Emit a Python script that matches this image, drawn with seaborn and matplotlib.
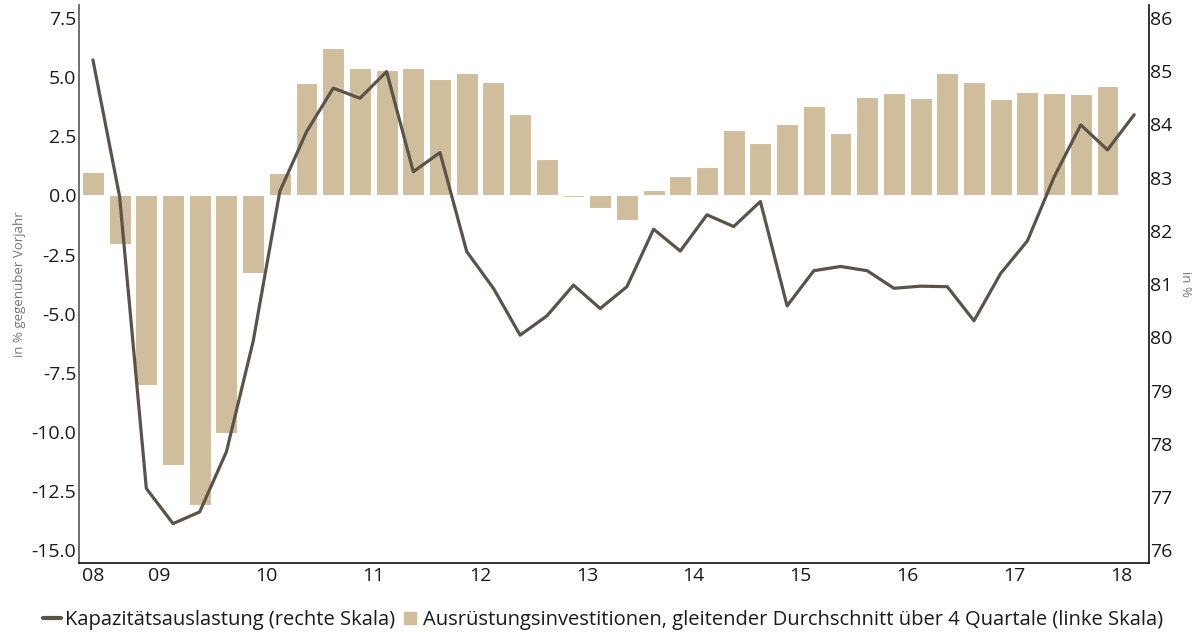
import pandas as pd
import matplotlib.pyplot as plt
from matplotlib.lines import Line2D
import seaborn as sns

# Quarters 2008Q2 .. 2018Q1
quarters = [f"{y}Q{q}" for y in range(2008, 2019) for q in range(1, 5)][1:41]

# Ausrüstungsinvestitionen, gleitender Durchschnitt über 4 Quartale (linke Skala), 2008Q2..2017Q4
investment = [1.0, -2.05, -8.0, -11.4, -13.1, -10.05, -3.26, 0.94,
              4.76, 6.25, 5.38, 5.32, 5.38, 4.91, 5.18, 4.81,
              3.46, 1.56, -0.05, -0.54, -1.02, 0.22, 0.84, 1.22,
              2.78, 2.2, 3.04, 3.78, 2.63, 4.18, 4.32, 4.12,
              5.19, 4.79, 4.08, 4.39, 4.33, 4.29, 4.62]

# Kapazitätsauslastung (rechte Skala), 2008Q2..2018Q1
capacity = [85.21, 82.64, 77.16, 76.50, 76.72, 77.85, 79.92, 82.74,
            83.86, 84.68, 84.49, 84.99, 83.11, 83.47, 81.61, 80.92,
            80.04, 80.40, 80.98, 80.54, 80.95, 82.03, 81.62, 82.30,
            82.08, 82.55, 80.59, 81.25, 81.33, 81.25, 80.92, 80.96,
            80.95, 80.31, 81.20, 81.81, 83.01, 83.99, 83.52, 84.18]

year_labels = ["08", "09", "10", "11", "12", "13", "14", "15", "16", "17", "18"]
left_ticks = [7.5, 5.0, 2.5, 0.0, -2.5, -5.0, -7.5, -10.0, -12.5, -15.0]
right_ticks = [76, 77, 78, 79, 80, 81, 82, 83, 84, 85, 86]

bar_color = "#cfbd9b"
line_color = "#5b5349"

bars = pd.DataFrame({"quarter": quarters[:len(investment)], "value": investment})
line = pd.DataFrame({"pos": range(len(capacity)), "value": capacity})

sns.set_style("white")
plt.rcParams["font.family"] = ["Open Sans", "DejaVu Sans"]

fig = plt.figure(figsize=(11.94, 6.34), dpi=100)
ax = fig.add_axes([0.0662, 0.112, 0.896, 0.88])

# Bars on the left scale
sns.barplot(data=bars, x="quarter", y="value", color=bar_color, saturation=1,
            width=0.82, edgecolor="white", linewidth=0.8, ax=ax)

# Line on the right scale
ax2 = ax.twinx()
sns.lineplot(data=line, x="pos", y="value", color=line_color, linewidth=2.3, ax=ax2)

ax.set_xlim(-0.52, 39.55)
ax.set_ylim(-15.54, 8.05)
ax2.set_ylim(75.76, 86.24)

# Year ticks sit on year boundaries, "08" on the first bar
ax.set_xticks([0] + [2.5 + 4 * i for i in range(10)])
ax.set_xticklabels(year_labels, fontsize=14, color="#1a1a1a")
ax.set_yticks(left_ticks)
ax.set_yticklabels([f"{t:.1f}" for t in left_ticks], fontsize=14, color="#1a1a1a")
ax2.set_yticks(right_ticks)
ax2.set_yticklabels([str(t) for t in right_ticks], fontsize=14, color="#1a1a1a")

ax.tick_params(axis="x", length=0, pad=3)
ax.tick_params(axis="y", length=0, pad=2)
ax2.tick_params(axis="y", length=0, pad=1)

ax.set_xlabel("")
ax.set_ylabel("in % gegenüber Vorjahr", fontsize=9.5, color="#777777", labelpad=4)
ax2.set_xlabel("")
ax2.set_ylabel("in %", fontsize=9.5, color="#777777", rotation=270, labelpad=14)

for a in (ax, ax2):
    a.spines["top"].set_visible(False)
ax.spines["left"].set_color("#555555")
ax.spines["bottom"].set_color("#111111")
ax.spines["right"].set_visible(False)
ax2.spines["left"].set_visible(False)
ax2.spines["bottom"].set_visible(False)
ax2.spines["right"].set_color("#111111")
for s in ("left", "bottom"):
    ax.spines[s].set_linewidth(1.2)
ax2.spines["right"].set_linewidth(1.2)

handles = [
    Line2D([], [], color=line_color, linewidth=3),
    Line2D([], [], color=bar_color, marker="s", markersize=9, linestyle="none"),
]
labels = ["Kapazitätsauslastung (rechte Skala)",
          "Ausrüstungsinvestitionen, gleitender Durchschnitt über 4 Quartale (linke Skala)"]
fig.legend(handles, labels, loc="center", bbox_to_anchor=(0.505, 0.022), ncol=2,
           frameon=False, fontsize=14.5, handlelength=0.9, handletextpad=0.2,
           columnspacing=0.25, labelcolor="#1a1a1a")

fig.savefig("out.png", dpi=100)
